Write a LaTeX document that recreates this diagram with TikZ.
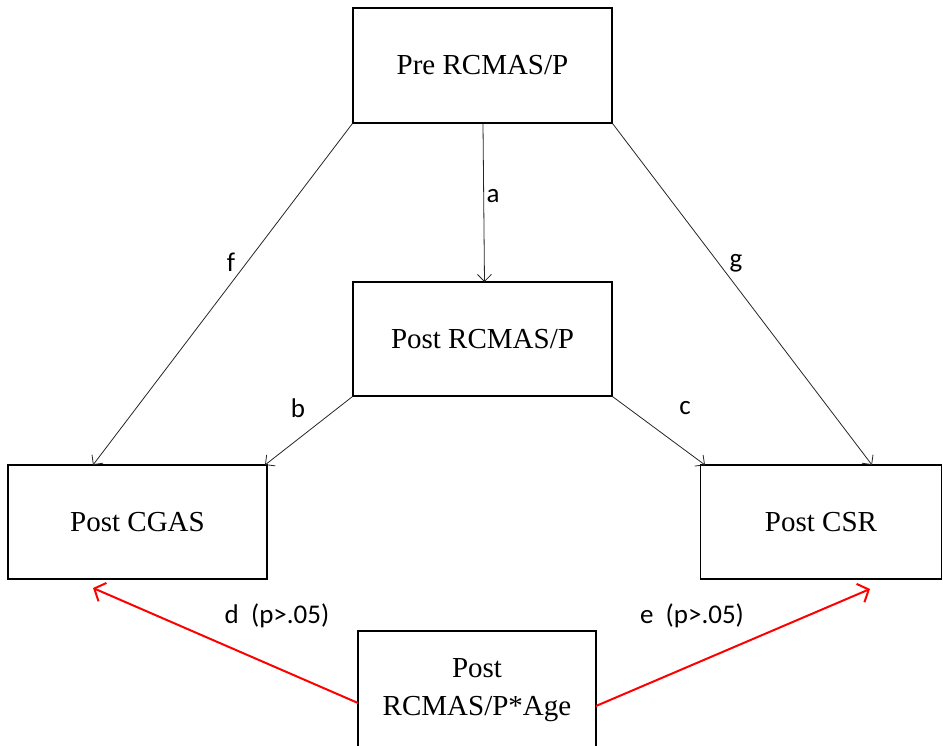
\documentclass[tikz,border=0pt]{standalone}
\usepackage{fontspec}
\setmainfont{Liberation Serif}
\newfontfamily\lblfont{Carlito}
\usetikzlibrary{arrows.meta}
\begin{document}
\begin{tikzpicture}[x=1pt,y=-1pt,
  box/.style={draw=black,line width=1.3pt,rectangle,inner sep=0pt,
    font=\fontsize{29}{38}\selectfont,align=center},
  thin/.style={draw=black!85,line width=0.8pt,-{Straight Barb[length=7pt,width=14pt,line width=0.8pt]}},
  redarr/.style={draw=red,line width=2pt,-{Straight Barb[length=9pt,width=20pt,line width=2pt]}},
  lbl/.style={font=\lblfont\fontsize{27}{32}\selectfont,inner sep=0pt}]
\useasboundingbox (0,0) rectangle (943,746);
\node[box,minimum width=259pt,minimum height=115pt] (pre) at (482.5,65.5) {Pre RCMAS/P};
\node[box,minimum width=259pt,minimum height=114pt] (post) at (482.5,339) {Post RCMAS/P};
\node[box,minimum width=259pt,minimum height=114pt] (cgas) at (137.5,522) {Post CGAS};
\node[box,minimum width=241pt,minimum height=114pt] (csr) at (821,522) {Post CSR};
\node[box,minimum width=238pt,minimum height=118pt] (age) at (477,690) {Post\\RCMAS/P*Age};
\coordinate (fend) at (93,465);
\coordinate (gend) at (872,465);
\coordinate (aend) at (484.5,282);
\coordinate (bend) at (265,465);
\coordinate (cend) at (705,465);
\coordinate (dend) at (93,588);
\coordinate (eend) at (870,589);
\coordinate (dst) at (358,703);
\coordinate (est) at (596,706);
\draw[thin] (pre.south) ++(0.5,0) -- (aend);
\draw[thin] (pre.south west) -- (fend);
\draw[thin] (pre.south east) -- (gend);
\draw[thin] (post.south west) -- (bend);
\draw[thin] (post.south east) -- (cend);
\draw[redarr] (dst) -- (dend);
\draw[redarr] (est) -- (eend);
\node[lbl] (la) at (493,196) {a};
\node[lbl] (lf) at (231,262) {f};
\node[lbl] (lg) at (736,263) {g};
\node[lbl] (lb) at (298,408) {b};
\node[lbl] (lc) at (685,408) {c};
\node[lbl] (ld) at (277,616) {d\ \ (p>.05)};
\node[lbl] (le) at (692,616) {e\ \ (p>.05)};
\end{tikzpicture}
\end{document}
